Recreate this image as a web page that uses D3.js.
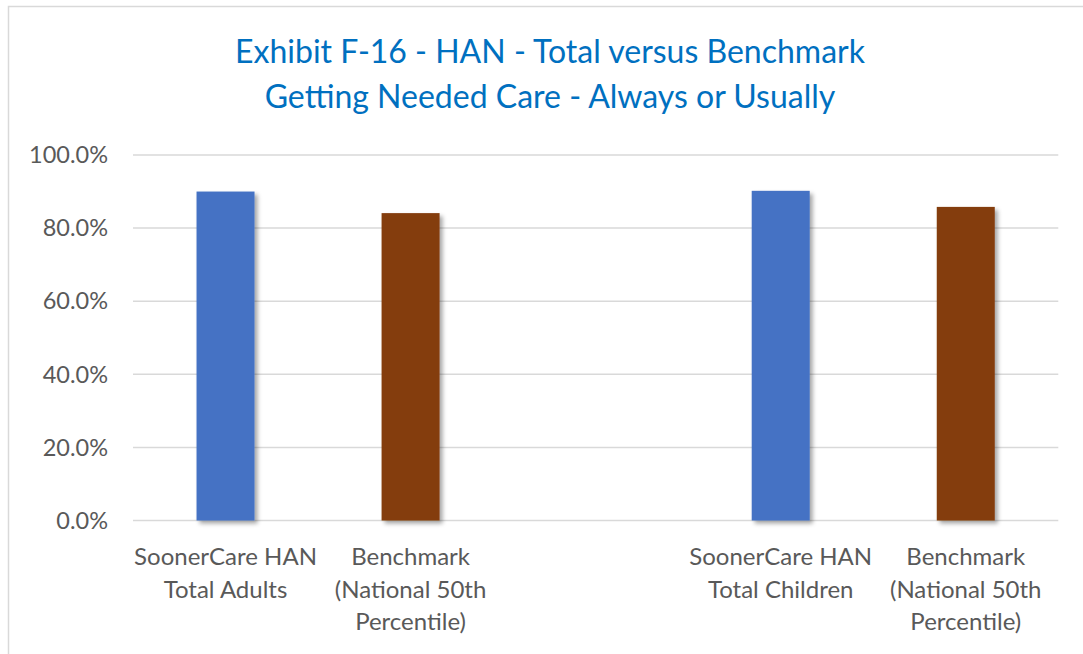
<html>
<head>
  <meta charset="utf-8" />
  <title>Exhibit F-16</title>
  <script src="https://d3js.org/d3.v7.min.js"></script>
  <style>
    body { margin: 0; background: #fff; }
    svg { display: block; font-family: Lato, "Open Sans", sans-serif; }
  </style>
</head>
<body>
<svg class="main" width="1083" height="654"></svg>
<script>

var categories = ["adults", "benchAdults", "gap", "children", "benchChildren"]
var labels = [
  ["SoonerCare HAN", "Total Adults"],
  ["Benchmark", "(National 50th", "Percentile)"],
  [],
  ["SoonerCare HAN", "Total Children"],
  ["Benchmark", "(National 50th", "Percentile)"]
]
var values = [0.900, 0.841, null, 0.902, 0.858]
var barColors = ["#4472C4", "#843C0C", null, "#4472C4", "#843C0C"]
var yTicks = [0, 0.2, 0.4, 0.6, 0.8, 1.0]
var titleLines = ["Exhibit F-16 - HAN - Total versus Benchmark", "Getting Needed Care - Always or Usually"]

var svg = d3.select("svg.main")

// outer chart frame (runs off the right and bottom)
svg.append("rect")
  .attr("x", 8.5).attr("y", 6.5)
  .attr("width", 1200).attr("height", 800)
  .attr("fill", "none")
  .attr("stroke", "#D9D9D9")
  .attr("stroke-width", 1.5)

var defs = svg.append("defs")
defs.append("filter")
  .attr("id", "shadow")
  .attr("x", "-20%").attr("y", "-20%")
  .attr("width", "150%").attr("height", "150%")
  .append("feDropShadow")
  .attr("dx", 3).attr("dy", 3)
  .attr("stdDeviation", 2)
  .attr("flood-color", "#000")
  .attr("flood-opacity", 0.35)

svg.append("g")
  .selectAll("text")
  .data(titleLines)
  .enter()
  .append("text")
  .attr("x", 550)
  .attr("y", function (d, i) {return 63 + i * 45})
  .attr("text-anchor", "middle")
  .attr("fill", "#0070C0")
  .style("font-size", "32px")
  .text(function (d) {return d})

var x = d3.scaleBand().domain(categories).range([133, 1058.3]).padding(0)
var y = d3.scaleLinear().domain([0, 1]).range([520.5, 155])

var barW = 58

var grid = svg.append("g")
grid.selectAll("line")
  .data(yTicks)
  .enter()
  .append("line")
  .attr("x1", 133).attr("x2", 1058.3)
  .attr("y1", function (d) {return y(d)})
  .attr("y2", function (d) {return y(d)})
  .attr("stroke", "#D9D9D9")
  .attr("stroke-width", 1.5)

grid.selectAll("text")
  .data(yTicks)
  .enter()
  .append("text")
  .attr("x", 108)
  .attr("y", function (d) {return y(d)})
  .attr("dy", "0.35em")
  .attr("text-anchor", "end")
  .attr("fill", "#595959")
  .style("font-size", "23.5px")
  .text(function (d) {return d3.format(".1%")(d)})

var barData = categories.map(function (c, i) {
  return {cat: c, value: values[i], color: barColors[i], lines: labels[i]}
})

svg.append("g")
  .selectAll("rect")
  .data(barData.filter(function (d) {return d.value != null}))
  .enter()
  .append("rect")
  .attr("x", function (d) {return x(d.cat) + x.bandwidth() / 2 - barW / 2})
  .attr("width", barW)
  .attr("y", function (d) {return y(d.value)})
  .attr("height", function (d) {return y(0) - y(d.value)})
  .attr("fill", function (d) {return d.color})
  .attr("filter", "url(#shadow)")

var catLabels = svg.append("g")
  .selectAll("text")
  .data(barData)
  .enter()
  .append("text")
  .attr("text-anchor", "middle")
  .attr("fill", "#595959")
  .style("font-size", "24px")

catLabels.selectAll("tspan")
  .data(function (d) {return d.lines.map(function (l) {return {cat: d.cat, text: l}})})
  .enter()
  .append("tspan")
  .attr("x", function (d) {return x(d.cat) + x.bandwidth() / 2})
  .attr("y", function (d, i) {return 557 + i * 32.5})
  .attr("dy", "0.35em")
  .text(function (d) {return d.text})

</script>
</body>
</html>
